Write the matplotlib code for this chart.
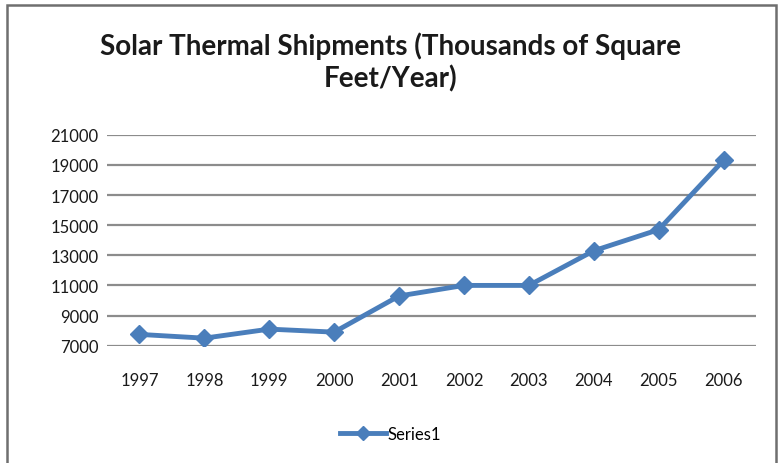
import matplotlib.pyplot as plt
from matplotlib.patches import Rectangle

years = ['1997', '1998', '1999', '2000', '2001', '2002', '2003', '2004', '2005', '2006']
shipments = [7750, 7500, 8100, 7900, 10300, 11000, 11000, 13300, 14700, 19300]
y_ticks = [7000, 9000, 11000, 13000, 15000, 17000, 19000, 21000]

plt.rcParams['font.family'] = ['Lato', 'DejaVu Sans']

fig = plt.figure(figsize=(7.81, 4.64), dpi=100)
ax = fig.add_axes([0.137, 0.2528, 0.831, 0.4547])

# border round the whole chart (bottom edge runs off the picture)
fig.patches.append(Rectangle((0.009, -0.02), 0.985, 1.008, transform=fig.transFigure,
                             fill=False, edgecolor='#6f6f6f', linewidth=1.8))

x = list(range(len(years)))
ax.plot(x, shipments, color='#4a7ebb', linewidth=3.5, marker='D', markersize=9,
        label='Series1', solid_joinstyle='round')

ax.set_xlim(-0.5, len(years) - 0.5)
ax.set_ylim(7000, 21000)
ax.set_yticks(y_ticks)
ax.set_xticks(x)
ax.set_xticklabels(years)
ax.yaxis.grid(True, color='#8c8c8c', linewidth=1.6)
ax.set_axisbelow(True)
for s in ax.spines.values():
    s.set_visible(False)
ax.tick_params(axis='both', length=0, labelsize=12, colors='#1a1a1a')
ax.tick_params(axis='x', pad=19)
ax.tick_params(axis='y', pad=6)

fig.text(0.5, 0.866, 'Solar Thermal Shipments (Thousands of Square\nFeet/Year)',
         ha='center', va='center', fontsize=20, fontweight='bold',
         linespacing=1.25, color='#1a1a1a')

fig.legend(loc='center', bbox_to_anchor=(0.5, 0.062), frameon=False,
           fontsize=12, handlelength=2.8, handletextpad=0.1, markerscale=0.8)

fig.savefig('out.png', dpi=100)
